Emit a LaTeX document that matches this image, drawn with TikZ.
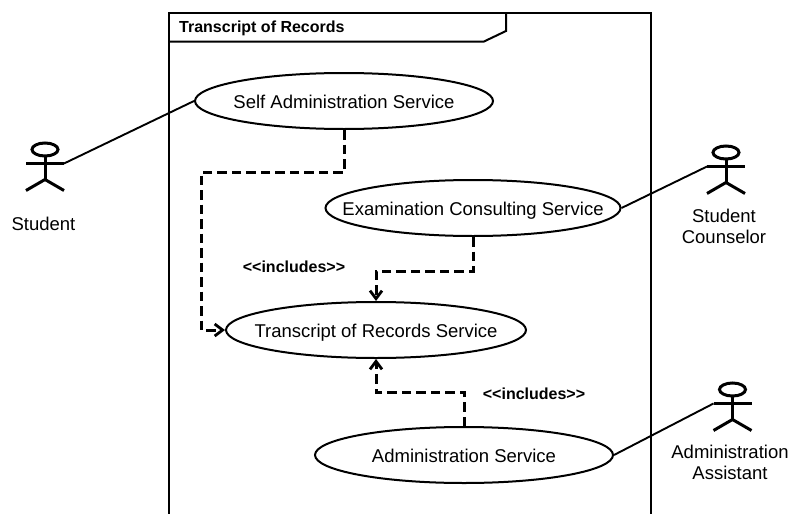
\documentclass[tikz,border=0pt]{standalone}
\usepackage{fontspec}
\setmainfont{Liberation Sans}
\usetikzlibrary{shapes.geometric,arrows.meta}
\newcommand{\uctext}[1]{\raisebox{-7pt}[0pt][0pt]{\makebox[0pt][c]{#1}}}
\tikzset{
  usecase/.style={draw=black,line width=2pt,ellipse,minimum width=298pt,minimum height=56pt,inner sep=0pt,font=\fontsize{18.5}{21}\selectfont},
  label text/.style={align=center,inner sep=0pt,font=\fontsize{18.5}{21}\selectfont},
  stereo/.style={inner sep=0pt,font=\fontsize{16}{18}\selectfont\bfseries},
  assoc/.style={draw=black,line width=1.9pt},
  dep/.style={draw=black,line width=3pt,dash pattern=on 9.5pt off 5pt,-{Straight Barb[length=8pt,width=12pt,line width=2.8pt]}},
  frameline/.style={draw=black,line width=2pt},
  pics/actor/.style={code={
    \draw[line width=3pt] (0,0) ellipse (13pt and 6.5pt);
    \draw[line width=3pt] (0,6.5) -- (0,30);
    \draw[line width=3pt] (-19,14) -- (19,14);
    \draw[line width=3pt] (-19,41) -- (0,30) -- (19,41);
    \coordinate (-lhand) at (-19,14);
    \coordinate (-rhand) at (19,14);
  }}
}
\begin{document}
\begin{tikzpicture}[x=1pt,y=-1pt]
\useasboundingbox (0,0) rectangle (790,514);
\fill[white] (0,0) rectangle (790,514);
% frame
\draw[frameline] (169,514) -- (169,13) -- (651,13) -- (651,514);
\draw[frameline] (506,13) -- (506,31) -- (484,41.5) -- (169,41.5);
\node[stereo,anchor=west] (title) at (179,28.5) {Transcript of Records};
% use cases
\node[usecase] (u1) at (344,101) {\uctext{Self Administration Service}};
\node[usecase,minimum width=295pt] (u2) at (473,208) {\uctext{Examination Consulting Service}};
\node[usecase,minimum width=300pt] (u3) at (376,330) {\uctext{Transcript of Records Service}};
\node[usecase] (u4) at (464,455) {\uctext{Administration Service}};
% actors
\pic (stu) at (45,149.5) {actor};
\pic (cou) at (726,152.5) {actor};
\pic (adm) at (732.5,389.5) {actor};
\node[label text] (lstu) at (43.5,223.5) {Student};
\node[label text] (lcou) at (724,226.5) {Student\\Counselor};
\node[label text] (ladm) at (730,462.5) {Administration\\Assistant};
% associations
\draw[assoc] (stu-rhand) -- (u1.west);
\draw[assoc] (u2.east) -- (cou-lhand);
\draw[assoc] (u4.east) -- (adm-lhand);
% dependencies
\coordinate (b1) at (201,172);
\coordinate (b2) at (376,271);
\coordinate (b3) at (376,392);
\draw[dep] (u1.south) |- (b1) |- (u3.west);
\draw[dep] (u2.south) |- (b2) -- (u3.north);
\draw[dep] (u4.north) |- (b3) -- (u3.south);
\node[stereo] (i1) at (294,267) {<{}<includes>{}>};
\node[stereo] (i2) at (534,394) {<{}<includes>{}>};
\end{tikzpicture}
\end{document}
